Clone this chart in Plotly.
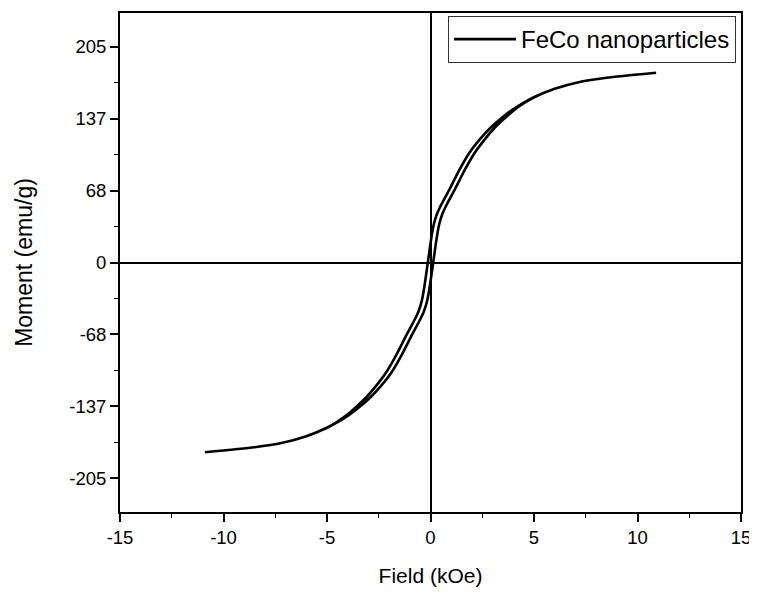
import plotly.graph_objects as go

# Descending branch (from +H max to -H max), field in kOe, moment in emu/g
field_down = [10.9, 8.5, 7.2, 6.0, 4.99, 4.47, 3.95, 3.42, 2.90, 2.38, 1.87, 1.37, 0.93, 0.67, 0.47,
              0.32, 0.17, 0.07, -0.03, -0.13, -0.23, -0.33, -0.43, -0.58, -0.73, -0.93, -1.19,
              -1.63, -2.13, -2.62, -3.10, -3.58, -4.05, -4.53, -5.01, -6.0, -7.2, -8.5, -10.9]
moment_down = [180.3, 175.5, 171.5, 165, 157, 151.5, 145, 137, 128, 117, 104, 87, 70, 60.5, 53,
               46.5, 37, 27, 14, 0, -14, -27, -37, -46.5, -53, -60.5, -70,
               -87, -104, -117, -128, -137, -145, -151.5, -157, -165, -171.5, -175.5, -180.3]
# Ascending branch (from -H max to +H max)
field_up = [-10.9, -8.5, -7.2, -6.0, -4.99, -4.47, -3.95, -3.42, -2.90, -2.38, -1.87, -1.37, -0.93,
            -0.67, -0.47, -0.32, -0.17, -0.07, 0.03, 0.13, 0.23, 0.33, 0.43, 0.58, 0.73, 0.93, 1.19,
            1.63, 2.13, 2.62, 3.10, 3.58, 4.05, 4.53, 5.01, 6.0, 7.2, 8.5, 10.9]
moment_up = [-180.3, -175.5, -171.5, -165, -157, -151.5, -145, -137, -128, -117, -104, -87, -70,
             -60.5, -53, -46.5, -37, -27, -14, 0, 14, 27, 37, 46.5, 53, 60.5, 70,
             87, 104, 117, 128, 137, 145, 151.5, 157, 165, 171.5, 175.5, 180.3]

series_name = "FeCo nanoparticles"
x_label = "Field (kOe)"
y_label = "Moment (emu/g)"

x_tickvals = [-15, -10, -5, 0, 5, 10, 15]
x_ticktext = ["-15", "-10", "-5", "0", "5", "10", "15"]
x_minorvals = [-12.5, -7.5, -2.5, 2.5, 7.5, 12.5]

y_step = 205 / 3
y_tickvals = [-3 * y_step, -2 * y_step, -y_step, 0, y_step, 2 * y_step, 3 * y_step]
y_ticktext = ["-205", "-137", "-68", "0", "68", "137", "205"]
y_minorvals = [-2.5 * y_step, -1.5 * y_step, -0.5 * y_step,
               0.5 * y_step, 1.5 * y_step, 2.5 * y_step]

fig = go.Figure()
fig.add_trace(go.Scatter(
    x=field_down + field_up,
    y=moment_down + moment_up,
    mode="lines",
    name=series_name,
    line=dict(color="black", width=2.6, shape="spline", smoothing=0.6),
    showlegend=True,
))

font_family = "Liberation Sans, Arial, sans-serif"
fig.update_layout(
    width=749, height=585,
    margin=dict(l=112, r=16, t=3, b=81),
    paper_bgcolor="white", plot_bgcolor="white",
    font=dict(family=font_family, color="black", size=18),
    showlegend=True,
    legend=dict(
        x=0.992, y=0.994, xanchor="right", yanchor="top",
        bordercolor="#333333", borderwidth=1, bgcolor="white",
        font=dict(size=24, family=font_family, color="black"),
        itemwidth=62,
    ),
)
fig.update_xaxes(
    range=[-15, 15], tickmode="array", tickvals=x_tickvals, ticktext=x_ticktext,
    showgrid=False, zeroline=True, zerolinecolor="black", zerolinewidth=1.6,
    showline=True, linecolor="black", linewidth=1.8, mirror=True,
    ticks="outside", ticklen=8, tickwidth=1.6, tickcolor="black",
    ticklabeloverflow="allow",
    minor=dict(tickmode="array", tickvals=x_minorvals, ticks="outside", ticklen=4,
               tickwidth=1.4, tickcolor="black", showgrid=False),
    tickfont=dict(size=18.5),
    title=dict(text=x_label, font=dict(size=21), standoff=21),
)
fig.update_yaxes(
    range=[-237, 237], tickmode="array", tickvals=y_tickvals, ticktext=y_ticktext,
    showgrid=False, zeroline=True, zerolinecolor="black", zerolinewidth=1.6,
    showline=True, linecolor="black", linewidth=1.8, mirror=True,
    ticks="outside", ticklen=8, tickwidth=1.6, tickcolor="black",
    ticklabeloverflow="allow",
    minor=dict(tickmode="array", tickvals=y_minorvals, ticks="outside", ticklen=4,
               tickwidth=1.4, tickcolor="black", showgrid=False),
    tickfont=dict(size=18.5),
    title=dict(text=y_label, font=dict(size=23), standoff=30),
)

fig.write_html("out.html")
